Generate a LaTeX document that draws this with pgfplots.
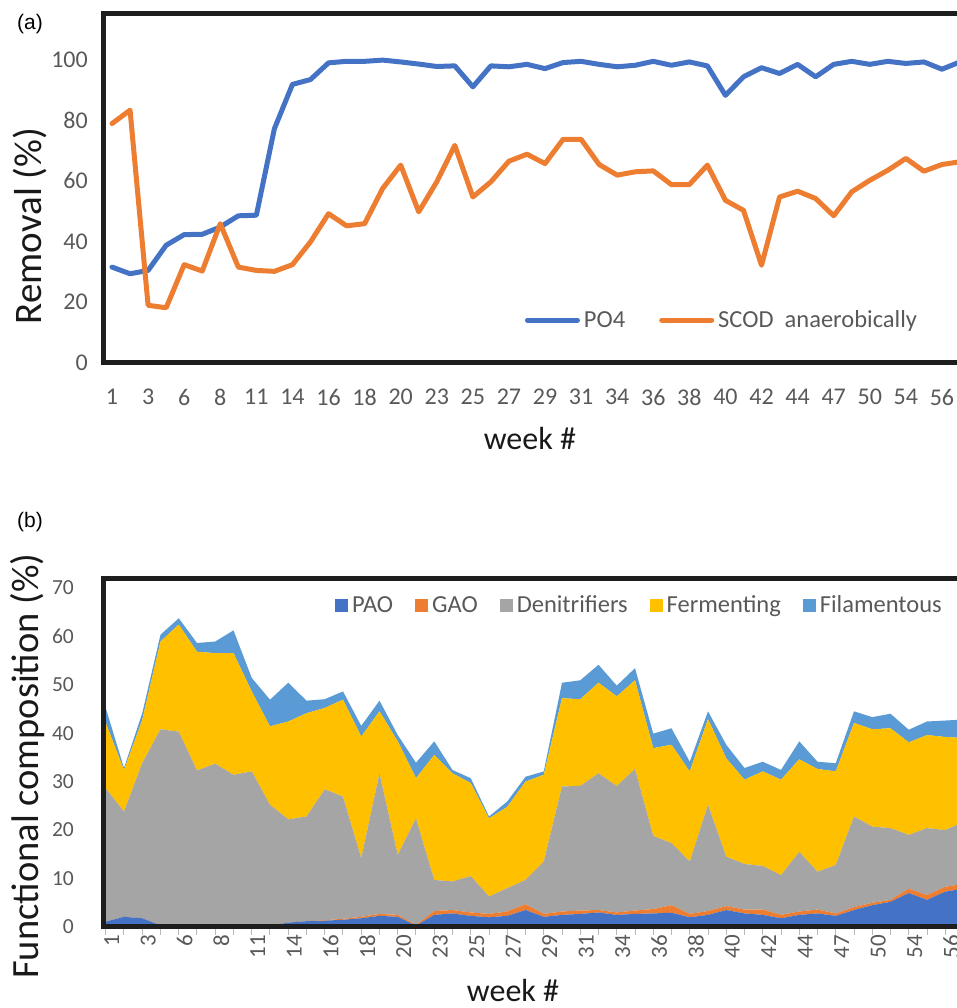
\documentclass[border=0pt]{standalone}
\usepackage{pgfplots}
\pgfplotsset{compat=1.18}
\usepackage{pgfplotstable}
\usepackage{fontspec}
\setmainfont{Carlito}
\newfontfamily\arialfont{Liberation Sans}
\definecolor{cblue}{RGB}{68,114,196}
\definecolor{corange}{RGB}{237,125,49}
\definecolor{cgray}{RGB}{165,165,165}
\definecolor{cgold}{RGB}{255,192,0}
\definecolor{clblue}{RGB}{91,155,213}
\definecolor{tgray}{RGB}{89,89,89}
\definecolor{frm}{RGB}{30,30,30}

\pgfplotstableread{
i PO4 SCOD
0 31.6 78.9
1 29.4 83.3
2 30.5 19.0
3 38.8 18.2
4 42.3 32.4
5 42.4 30.3
6 44.8 45.9
7 48.5 31.6
8 48.7 30.5
9 77.2 30.2
10 91.8 32.4
11 93.4 39.9
12 98.9 49.2
13 99.4 45.2
14 99.4 45.9
15 99.8 57.5
16 99.2 65.2
17 98.5 49.8
18 97.7 59.7
19 97.9 71.7
20 91.0 54.7
21 97.9 59.7
22 97.6 66.5
23 98.4 68.8
24 97.0 65.7
25 99.0 73.7
26 99.4 73.7
27 98.4 65.4
28 97.6 61.9
29 98.1 63.0
30 99.4 63.3
31 98.1 58.8
32 99.2 58.8
33 97.9 65.2
34 88.2 53.6
35 94.3 50.3
36 97.3 32.2
37 95.4 54.7
38 98.4 56.6
39 94.3 54.2
40 98.4 48.5
41 99.4 56.4
42 98.4 60.2
43 99.4 63.5
44 98.7 67.4
45 99.2 63.2
46 96.8 65.4
47 99.2 66.3
}\rem

\pgfplotstableread{
i PAO GAO Den Fer Fil
0 1.1 0.0 27.5 13.5 3.1
1 2.1 0.0 21.7 8.6 0.4
2 1.8 0.0 32.0 8.9 1.4
3 0.3 0.0 40.5 18.1 1.4
4 0.4 0.0 39.9 22.1 1.3
5 0.4 0.0 31.9 24.5 1.8
6 0.3 0.0 33.4 22.8 2.4
7 0.3 0.0 31.1 25.1 4.7
8 0.3 0.0 31.8 16.5 2.8
9 0.3 0.0 24.9 16.2 5.5
10 0.9 0.0 21.3 20.2 8.0
11 1.2 0.0 21.6 21.3 2.6
12 1.3 0.1 27.0 16.8 1.8
13 1.5 0.2 25.2 20.0 1.7
14 1.8 0.3 12.1 25.1 2.2
15 2.3 0.4 29.0 12.8 2.2
16 2.1 0.4 12.4 23.4 1.3
17 0.3 0.1 22.0 8.3 3.2
18 2.5 0.8 6.4 25.8 2.8
19 2.8 0.7 5.9 22.3 0.7
20 2.3 0.7 7.5 19.2 1.0
21 2.0 0.7 3.6 16.1 0.4
22 2.3 0.9 4.8 16.8 1.1
23 3.5 1.2 5.0 20.3 1.0
24 2.1 0.6 10.8 17.9 0.7
25 2.5 0.7 25.8 18.2 3.2
26 2.7 0.7 25.7 17.9 3.9
27 3.0 0.5 28.2 18.7 3.7
28 2.5 0.5 26.1 18.5 2.2
29 2.7 0.7 29.2 18.3 2.5
30 2.8 0.9 15.1 18.1 3.0
31 2.95 1.55 12.8 20.3 3.4
32 2.0 0.7 10.8 18.6 2.0
33 2.5 0.8 21.9 17.7 1.6
34 3.5 0.8 10.2 20.3 2.8
35 2.8 0.8 9.4 17.4 2.4
36 2.5 1.1 9.0 19.5 2.0
37 1.8 0.7 8.2 19.7 2.0
38 2.5 0.7 12.3 19.1 3.7
39 2.8 0.8 7.8 21.2 1.5
40 2.3 0.5 10.0 19.3 1.7
41 3.5 0.6 18.7 19.3 2.4
42 4.5 0.5 15.7 20.1 2.5
43 5.2 0.4 14.8 20.6 3.0
44 7.0 0.9 11.1 19.1 2.6
45 5.6 1.0 13.8 19.2 2.8
46 7.3 1.0 11.7 19.2 3.4
47 7.9 1.0 12.8 17.3 3.8
}\comp

\pgfplotsset{sq/.style={legend image code/.code={\fill[##1,draw=none] (0pt,-6.5pt) rectangle (13pt,6.5pt);}}}

\begin{document}
\begin{tikzpicture}[x=1pt,y=1pt]
\path[use as bounding box, clip] (0,0) rectangle (957,1008);

\node[font=\arialfont\fontsize{21}{24}\selectfont, text=black] at (30,984) {(a)};
\node[font=\arialfont\fontsize{21}{24}\selectfont, text=black] at (30,486) {(b)};

% ---------- (a) ----------
\begin{axis}[
  at={(103pt,645pt)}, anchor=south west,
  scale only axis, width=866pt, height=349pt,
  xmin=-0.5, xmax=47.5, ymin=0, ymax=115,
  xtick={0,2,...,46},
  xticklabels={1,3,6,8,11,14,16,18,20,23,25,27,29,31,34,36,38,40,42,44,47,50,54,56},
  ytick={0,20,...,100},
  major tick length=0pt,
  axis line style={line width=5pt, draw=frm},
  /pgf/number format/assume math mode=true,
  tick label style={font=\fontsize{24}{28}\selectfont, text=tgray},
  xticklabel style={anchor=north, inner sep=0pt, yshift=-26pt},
  yticklabel style={anchor=east, inner sep=0pt, xshift=-15pt},
  xlabel={week \#},
  xlabel style={at={(axis description cs:0.493,-0.249)}, anchor=base, font=\fontsize{32}{38}\selectfont, text=black!90},
  ylabel={Removal (\%)},
  ylabel style={at={(axis description cs:-0.0843,0.3926)}, anchor=center, font=\fontsize{39}{46}\selectfont, text=black!90},
  legend style={at={(axis description cs:0.487,0.123)}, anchor=west, draw=none, fill=none,
    legend columns=2, font=\fontsize{24.5}{28}\selectfont, text=tgray, inner sep=0pt,
    nodes={inner xsep=4pt},
    /tikz/every even column/.append style={column sep=30pt}},
  legend image code/.code={\draw[#1] (0pt,0pt) -- (50pt,0pt);},
]
\addplot[cblue, line width=5pt, line join=round, line cap=round] table[x=i,y=PO4]{\rem};
\addplot[corange, line width=5pt, line join=round, line cap=round] table[x=i,y=SCOD]{\rem};
\legend{PO4, SCOD\ \ anaerobically}
\end{axis}

% ---------- (b) ----------
\begin{axis}[
  at={(103pt,81pt)}, anchor=south west,
  scale only axis, width=860.5pt, height=348pt,
  xmin=-0.15, xmax=47, ymin=0, ymax=71.8,
  stack plots=y, area style, axis on top,
  xtick={0,...,47},
  xticklabels={1,,3,,6,,8,,11,,14,,16,,18,,20,,23,,25,,27,,29,,31,,34,,36,,38,,40,,42,,44,,47,,50,,54,,56,},
  ytick={0,10,...,70},
  tick align=outside, xtick pos=bottom, major tick length=8pt,
  xtick style={draw=gray!55, line width=1pt},
  ytick style={draw=none},
  axis line style={line width=5pt, draw=frm},
  /pgf/number format/assume math mode=true,
  tick label style={font=\fontsize{21.5}{25}\selectfont, text=tgray},
  xticklabel style={rotate=90, anchor=east, inner sep=0pt, yshift=-6pt, font=\fontsize{23}{27}\selectfont},
  yticklabel style={anchor=east, inner sep=0pt, xshift=-21pt},
  xlabel={week \#},
  xlabel style={at={(axis description cs:0.4765,-0.213)}, anchor=base, font=\fontsize{32}{38}\selectfont, text=black!90},
  ylabel={Functional composition (\%)},
  ylabel style={at={(axis description cs:-0.0872,0.4626)}, anchor=center, font=\fontsize{38.5}{46}\selectfont, text=black!90},
  legend style={at={(axis description cs:0.2696,0.925)}, anchor=west, draw=none, fill=none,
    legend columns=5, font=\fontsize{24.5}{29}\selectfont, text=tgray, inner sep=0pt,
    nodes={inner xsep=4pt},
    /tikz/every even column/.append style={column sep=18pt}},
]
\addplot[fill=cblue, draw=none, sq] table[x=i,y=PAO]{\comp} \closedcycle;
\addplot[fill=corange, draw=none, sq] table[x=i,y=GAO]{\comp} \closedcycle;
\addplot[fill=cgray, draw=none, sq] table[x=i,y=Den]{\comp} \closedcycle;
\addplot[fill=cgold, draw=none, sq] table[x=i,y=Fer]{\comp} \closedcycle;
\addplot[fill=clblue, draw=none, sq] table[x=i,y=Fil]{\comp} \closedcycle;
\legend{PAO, GAO, Denitrifiers, Fermenting, Filamentous}
\end{axis}
\end{tikzpicture}
\end{document}
